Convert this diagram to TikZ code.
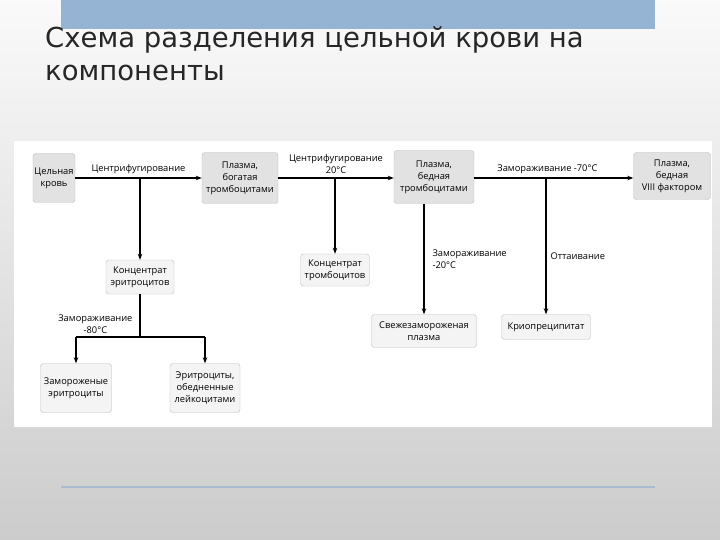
\documentclass[tikz,border=0pt]{standalone}
\usepackage{fontspec}
\setmainfont{Open Sans}
\newfontfamily\titlefont{DejaVu Sans}
\usetikzlibrary{arrows.meta, positioning}

\definecolor{barblue}{HTML}{95B3D3}
\definecolor{rulegray}{HTML}{A8BCCF}
\definecolor{boxdark}{HTML}{E2E2E2}
\definecolor{boxlight}{HTML}{F4F4F4}
\definecolor{boxline}{HTML}{BDBDBD}

\begin{document}
\begin{tikzpicture}[x=1pt, y=-1pt,
    mainbox/.style={draw=boxline, fill=boxdark, rounded corners=3pt, align=center, inner sep=1pt,
        font=\fontsize{9.3}{12}\selectfont},
    prodbox/.style={mainbox, fill=boxlight},
    flow/.style={-{Stealth[length=6pt, width=4.5pt]}, line width=1.1pt},
    stem/.style={line width=1.1pt},
    lbl/.style={font=\fontsize{9.3}{11.5}\selectfont, inner sep=1pt}
]

\useasboundingbox (0,0) rectangle (720,540);
\shade[top color=white!98!black, middle color=white!91!black, bottom color=white!80!black] (0,0) rectangle (720,540);
\fill[barblue] (61,0) rectangle (655,29);
\fill[white] (14,141) rectangle (712,427);
\draw[rulegray, line width=2pt] (61,487) -- (655,487);

\node[anchor=north west, align=left, inner sep=0pt, text=black!85,
    font=\titlefont\fontsize{27.5}{33}\selectfont] (title) at (45,26)
    {Схема разделения цельной крови на\\компоненты};

% top row
\node[mainbox, minimum width=42pt, minimum height=49pt] (whole) at (54,178) {Цельная\\кровь};
\node[mainbox, minimum width=76pt, minimum height=51pt] (prp) at (240,178) {Плазма,\\богатая\\тромбоцитами};
\node[mainbox, minimum width=80pt, minimum height=53pt] (ppp) at (434,177) {Плазма,\\бедная\\тромбоцитами};
\node[mainbox, minimum width=77pt, minimum height=47pt] (lowf8) at (672,176) {Плазма,\\бедная\\VIII фактором};

% products
\node[prodbox, minimum width=68pt, minimum height=34pt] (rbc) at (140,277) {Концентрат\\эритроцитов};
\node[prodbox, minimum width=69pt, minimum height=32pt] (plt) at (335,270) {Концентрат\\тромбоцитов};
\node[prodbox, minimum width=105pt, minimum height=33pt] (ffp) at (424,331) {Свежезамороженая\\плазма};
\node[prodbox, minimum width=89pt, minimum height=25pt] (cryo) at (546,327) {Криопреципитат};
\node[prodbox, minimum width=71pt, minimum height=49pt] (frbc) at (76,388) {Замороженые\\эритроциты};
\node[prodbox, minimum width=70pt, minimum height=49pt] (lrbc) at (205,388) {Эритроциты,\\обедненные\\лейкоцитами};

% branch points
\coordinate (b1) at (140,178);
\coordinate (b2) at (335,178);
\coordinate (b3) at (546,178);
\coordinate (b4) at (140,337);
\coordinate (b4l) at (76,337);
\coordinate (b4r) at (205,337);

\draw[flow] (whole.east |- b1) -- node[lbl, above=3pt, pos=0.5] {Центрифугирование} (prp.west |- b1);
\draw[flow] (prp.east |- b2) -- node[lbl, above=3pt, align=center] {Центрифугирование\\20°С} (ppp.west |- b2);
\draw[flow] (ppp.east |- b3) -- node[lbl, above=3pt, pos=0.46] {Замораживание -70°С} (lowf8.west |- b3);

\draw[flow] (b1) -- (rbc);
\draw[flow] (b2) -- (plt);
\draw[flow] (b3) -- node[lbl, right=3pt, pos=0.57] {Оттаивание} (cryo);
\draw[flow] (ppp.south -| ffp.north) -- node[lbl, right=7pt, align=left, pos=0.5] {Замораживание\\-20°С} (ffp);

\draw[stem] (rbc) -- node[lbl, left=6pt, align=center, pos=0.7] {Замораживание\\-80°С} (b4);
\draw[stem] (b4l) -- (b4r);
\draw[flow] (b4l) -- (frbc);
\draw[flow] (b4r) -- (lrbc);

\end{tikzpicture}
\end{document}
